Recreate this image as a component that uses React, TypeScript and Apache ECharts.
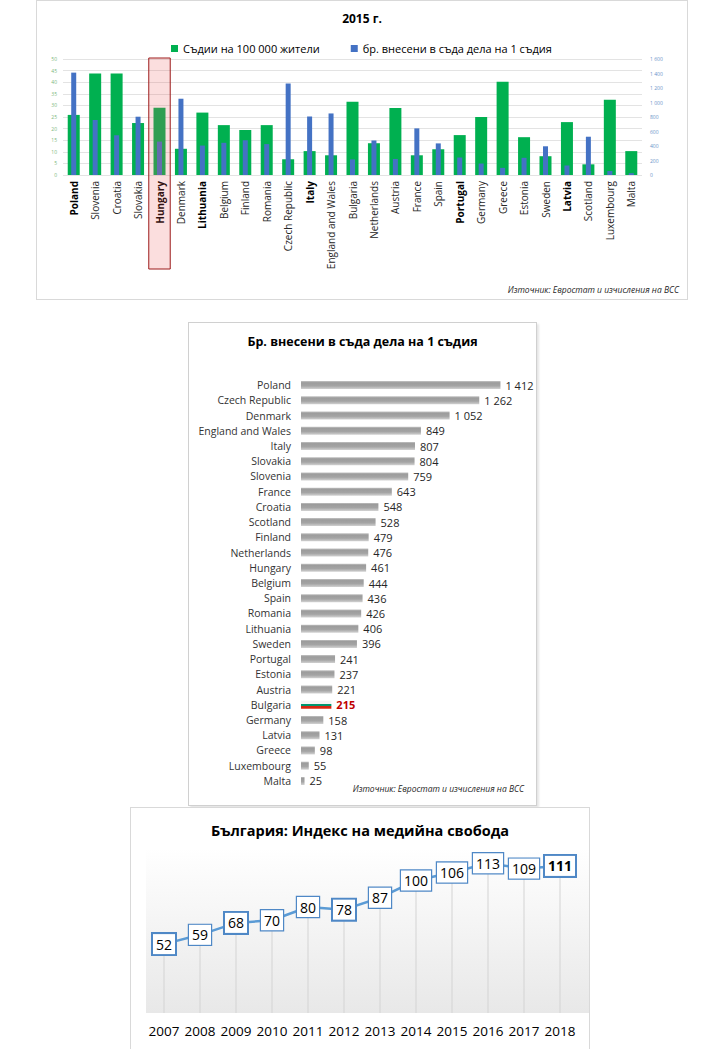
import React, { useEffect, useRef } from "react";
import * as echarts from "echarts";

// ---------- Chart 1 data ----------
const countries1 = ["Poland","Slovenia","Croatia","Slovakia","Hungary","Denmark","Lithuania","Belgium","Finland","Romania","Czech Republic","Italy","England and Wales","Bulgaria","Netherlands","Austria","France","Spain","Portugal","Germany","Greece","Estonia","Sweden","Latvia","Scotland","Luxembourg","Malta"];
const judgesPer100k = [25.9,43.8,43.8,22.4,29.0,11.3,26.9,21.5,19.4,21.5,6.8,10.3,8.5,31.6,13.7,28.9,8.5,11.1,17.2,25.0,40.2,16.3,8.1,22.8,4.6,32.4,10.3];
const casesPerJudge1 = [1412,759,548,804,461,1052,406,444,479,426,1262,807,849,215,476,221,643,436,241,158,98,237,396,131,528,55,25];
const boldCountries1 = ["Poland","Hungary","Lithuania","Italy","Portugal","Latvia"];
const highlightCountry = "Hungary";

// ---------- Chart 2 data ----------
const countries2 = ["Poland","Czech Republic","Denmark","England and Wales","Italy","Slovakia","Slovenia","France","Croatia","Scotland","Finland","Netherlands","Hungary","Belgium","Spain","Romania","Lithuania","Sweden","Portugal","Estonia","Austria","Bulgaria","Germany","Latvia","Greece","Luxembourg","Malta"];
const casesPerJudge2 = [1412,1262,1052,849,807,804,759,643,548,528,479,476,461,444,436,426,406,396,241,237,221,215,158,131,98,55,25];

// ---------- Chart 3 data ----------
const years = ["2007","2008","2009","2010","2011","2012","2013","2014","2015","2016","2017","2018"];
const mediaIndex = [52,59,68,70,80,78,87,100,106,113,109,111];
const boldYears = ["2007","2009","2012","2018"];

const FONT = "'Open Sans', 'Noto Sans', sans-serif";
const SOURCE = "Източник: Евростат и изчисления на ВСС";
const fmt = (v: number) => String(v).replace(/\B(?=(\d{3})+(?!\d))/g, " ");

function useChart(build: (el: HTMLDivElement) => echarts.ECharts) {
  const ref = useRef<HTMLDivElement>(null);
  useEffect(() => {
    if (!ref.current) return;
    const c = build(ref.current);
    return () => c.dispose();
  }, []);
  return ref;
}

function Chart1() {
  const ref = useChart((el) => {
    const chart = echarts.init(el, null, { renderer: "svg" });
    const sourceText = {
      type: "text",
      right: 8,
      top: 284,
      style: {
        text: SOURCE,
        fontSize: 8.5,
        fontStyle: "italic",
        fill: "#262626",
        fontFamily: FONT,
      },
    };
    chart.setOption({
      animation: false,
      textStyle: { fontFamily: FONT },
      title: {
        text: "2015 г.",
        left: "center",
        top: 6,
        textStyle: { fontSize: 12, fontWeight: "bold", color: "#000", fontFamily: FONT },
      },
      legend: {
        left: 129,
        top: 37,
        icon: "rect",
        itemWidth: 7,
        itemHeight: 7,
        itemGap: 31,
        textStyle: { fontSize: 11, color: "#000", fontFamily: FONT },
        data: ["Съдии на 100 000 жители", "бр. внесени в съда дела на 1 съдия"],
      },
      grid: { left: 26, right: 45, top: 58, height: 116 },
      xAxis: [
        {
          type: "category",
          data: countries1,
          axisLine: { show: false },
          axisTick: { show: false },
          axisLabel: {
            rotate: 90,
            interval: 0,
            margin: 6,
            fontSize: 10,
            color: "#262626",
            fontFamily: FONT,
            formatter: (v: string) => (boldCountries1.includes(v) ? `{b|${v}}` : v),
            rich: { b: { fontWeight: "bold", fontSize: 10, color: "#000", fontFamily: FONT } },
          },
        },
        { type: "category", data: countries1, show: false },
      ],
      yAxis: [
        {
          type: "value",
          min: 0,
          max: 50,
          interval: 5,
          axisLine: { show: false },
          axisTick: { show: false },
          axisLabel: { fontSize: 5, color: "#7cb87c", margin: 6 },
          splitLine: { lineStyle: { color: "#e3e3e3", width: 1 } },
        },
        {
          type: "value",
          min: 0,
          max: 1600,
          interval: 200,
          axisLine: { show: false },
          axisTick: { show: false },
          axisLabel: { fontSize: 5, color: "#6a93c9", margin: 8, formatter: (v: number) => fmt(v) },
          splitLine: { show: false },
        },
      ],
      series: [
        {
          name: "Съдии на 100 000 жители",
          type: "bar",
          xAxisIndex: 0,
          yAxisIndex: 0,
          barWidth: 12,
          itemStyle: { color: "#00b050" },
          data: judgesPer100k,
        },
        {
          name: "бр. внесени в съда дела на 1 съдия",
          type: "bar",
          xAxisIndex: 1,
          yAxisIndex: 1,
          barWidth: 5,
          itemStyle: { color: "#4472c4" },
          data: casesPerJudge1,
        },
      ],
      graphic: [sourceText],
    });
    const cx = chart.convertToPixel({ xAxisIndex: 0 }, highlightCountry) as number;
    const cx2 = chart.convertToPixel({ xAxisIndex: 0 }, countries1[5]) as number;
    const band = cx2 - cx;
    chart.setOption({
      graphic: [
        sourceText,
        {
          type: "rect",
          z: 100,
          shape: { x: cx - band / 2, y: 57, width: band, height: 211 },
          style: { fill: "rgba(235,90,90,0.2)", stroke: "#9c1b1b", lineWidth: 1 },
        },
      ],
    });
    return chart;
  });
  return (
    <div
      ref={ref}
      style={{
        position: "absolute",
        left: 36,
        top: 0,
        width: 652,
        height: 300,
        border: "1px solid #d9d9d9",
        boxSizing: "border-box",
        background: "#fff",
      }}
    />
  );
}

function Chart2() {
  const ref = useChart((el) => {
    const chart = echarts.init(el, null, { renderer: "svg" });
    const grayBar = new echarts.graphic.LinearGradient(0, 0, 0, 1, [
      { offset: 0, color: "#c2c2c2" },
      { offset: 0.2, color: "#9c9c9c" },
      { offset: 0.6, color: "#a4a4a4" },
      { offset: 1, color: "#d2d2d2" },
    ]);
    const flagBar = new echarts.graphic.LinearGradient(0, 0, 0, 1, [
      { offset: 0, color: "#f4f4f4" },
      { offset: 0.35, color: "#f4f4f4" },
      { offset: 0.36, color: "#00966e" },
      { offset: 0.68, color: "#00966e" },
      { offset: 0.69, color: "#d62612" },
      { offset: 1, color: "#d62612" },
    ]);
    chart.setOption({
      animation: false,
      textStyle: { fontFamily: FONT },
      title: {
        text: "Бр. внесени в съда дела на 1 съдия",
        left: "center",
        top: 7,
        textStyle: { fontSize: 12.5, fontWeight: "bold", color: "#000", fontFamily: FONT },
      },
      grid: { left: 112, right: 9, top: 54.5, height: 411 },
      xAxis: { type: "value", min: 0, max: 1600, show: false },
      yAxis: {
        type: "category",
        inverse: true,
        data: countries2,
        axisLine: { show: false },
        axisTick: { show: false },
        axisLabel: { interval: 0, margin: 10, fontSize: 10.5, color: "#333", fontFamily: FONT },
      },
      series: [
        {
          type: "bar",
          barWidth: 8,
          data: casesPerJudge2.map((v, i) =>
            countries2[i] === "Bulgaria"
              ? {
                  value: v,
                  itemStyle: { color: flagBar },
                  label: { color: "#c00000", fontWeight: "bold" },
                }
              : { value: v }
          ),
          itemStyle: { color: grayBar },
          label: {
            show: true,
            position: "right",
            distance: 5,
            fontSize: 11,
            color: "#262626",
            fontFamily: FONT,
            formatter: (p: any) => fmt(p.value),
          },
        },
      ],
      graphic: [
        {
          type: "text",
          right: 12,
          top: 461,
          style: {
            text: SOURCE,
            fontSize: 8.5,
            fontStyle: "italic",
            fill: "#262626",
            fontFamily: FONT,
          },
        },
      ],
    });
    return chart;
  });
  return (
    <div
      ref={ref}
      style={{
        position: "absolute",
        left: 188,
        top: 322,
        width: 349,
        height: 484,
        border: "1px solid #d0d0d0",
        boxShadow: "2px 2px 2px #e6e6e6",
        boxSizing: "border-box",
        background: "#fff",
      }}
    />
  );
}

function Chart3() {
  const ref = useChart((el) => {
    const chart = echarts.init(el, null, { renderer: "svg" });
    chart.setOption({
      animation: false,
      textStyle: { fontFamily: FONT },
      title: {
        text: "България: Индекс на медийна свобода",
        left: "center",
        top: 10,
        textStyle: { fontSize: 14.5, fontWeight: "bold", color: "#000", fontFamily: FONT },
      },
      grid: { left: 15, right: 11, top: 46, bottom: 43 },
      xAxis: {
        type: "category",
        data: years,
        axisLine: { show: false },
        axisTick: { show: false },
        axisLabel: { interval: 0, margin: 11, fontSize: 13.5, color: "#000", fontFamily: FONT },
      },
      yAxis: { type: "value", min: 0, max: 120, show: false },
      graphic: [
        {
          type: "rect",
          z: -1,
          shape: { x: 15, y: 40, width: 450, height: 165 },
          style: {
            fill: new echarts.graphic.LinearGradient(0, 0, 0, 1, [
              { offset: 0, color: "#ffffff" },
              { offset: 1, color: "#e8e8e8" },
            ]),
          },
        },
      ],
      series: [
        {
          type: "bar",
          barWidth: 1,
          itemStyle: { color: "#d4d4d4" },
          data: mediaIndex,
          z: 1,
        },
        {
          type: "line",
          data: mediaIndex.map((v, i) =>
            boldYears.includes(years[i])
              ? { value: v, label: { borderWidth: 2, fontWeight: i === years.length - 1 ? "bold" : "normal" } }
              : { value: v }
          ),
          z: 3,
          symbol: "rect",
          symbolSize: 1,
          lineStyle: { color: "#5b9bd5", width: 2.5 },
          itemStyle: { color: "#5b9bd5" },
          label: {
            show: true,
            position: "inside",
            fontSize: 14,
            lineHeight: 14,
            color: "#000",
            fontFamily: FONT,
            backgroundColor: "#fff",
            borderColor: "#4f88c6",
            borderWidth: 1.2,
            padding: [3, 3, 3, 3],
          },
        },
      ],
    });
    return chart;
  });
  return (
    <div
      ref={ref}
      style={{
        position: "absolute",
        left: 130,
        top: 807,
        width: 460,
        height: 250,
        border: "1px solid #d9d9d9",
        boxSizing: "border-box",
        background: "#fff",
      }}
    />
  );
}

export default function App() {
  return (
    <div
      style={{
        position: "absolute",
        left: 0,
        top: 0,
        width: 722,
        height: 1049,
        overflow: "hidden",
        background: "#fff",
      }}
    >
      <Chart1 />
      <Chart2 />
      <Chart3 />
    </div>
  );
}
